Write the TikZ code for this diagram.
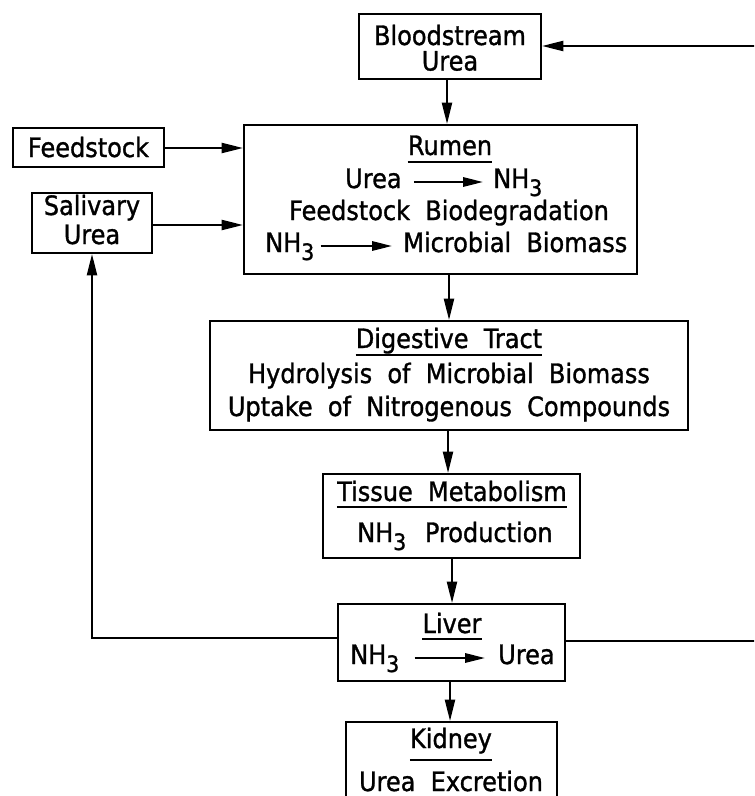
\documentclass[tikz,border=0pt]{standalone}
\usepackage{fontspec}
\setmainfont[WordSpace=2.0,FakeStretch=0.9,FakeBold=1.2]{DejaVu Sans}
\usetikzlibrary{arrows.meta,fit}
\newcommand\nhthree{NH\raisebox{-6pt}{\fontsize{17}{17}\selectfont 3}}
\begin{document}
\begin{tikzpicture}[x=0.75pt,y=-0.75pt,
  box/.style={draw,line width=1.5pt,inner sep=0pt},
  txt/.style={inner sep=0pt,anchor=base,font=\fontsize{20}{24}\selectfont},
  txtl/.style={txt,anchor=base west},
  flow/.style={line width=1.5pt,-{Triangle[length=16pt,width=7.5pt]}},
  inl/.style={line width=1.5pt,-{Triangle[length=15pt,width=7pt]}},
  ul/.style={line width=1.5pt}]
\clip (0,0) rectangle (754,796);
% boxes
\node[box,fit={(359,14) (541,79)}] (blood) {};
\node[box,fit={(13,128) (164,167)}] (feed) {};
\node[box,fit={(32,193) (152,253)}] (saliv) {};
\node[box,fit={(244,125) (637,274)}] (rumen) {};
\node[box,fit={(210,321) (688,430)}] (digest) {};
\node[box,fit={(323,474) (580,558)}] (tissue) {};
\node[box,fit={(338,604) (565,681)}] (liver) {};
\node[box,fit={(346,722) (557,840)}] (kidney) {};
% texts
\node[txt] (bl1) at (450,45) {Bloodstream};
\node[txt] (bl2) at (450,70.5) {Urea};
\node[txt] (fe1) at (88.5,157) {Feedstock};
\node[txt] (sa1) at (92,215) {Salivary};
\node[txt] (sa2) at (92,244) {Urea};
\node[txt] (ru0) at (450,155) {Rumen};
\node[txtl] (ru1a) at (345,188) {Urea};
\node[txtl] (ru1b) at (493,188) {\nhthree};
\node[txt] (ru2) at (449,220) {Feedstock Biodegradation};
\node[txtl] (ru3a) at (265,252) {\nhthree};
\node[txtl] (ru3b) at (403,252) {Microbial Biomass};
\node[txt] (di0) at (449,348) {Digestive Tract};
\node[txt] (di1) at (449,383) {Hydrolysis of Microbial Biomass};
\node[txt] (di2) at (449,416) {Uptake of Nitrogenous Compounds};
\node[txt] (ti0) at (452,501) {Tissue Metabolism};
\node[txtl] (ti1) at (357,542) {\nhthree\hspace{14pt}Production};
\node[txt] (li0) at (452,633) {Liver};
\node[txtl] (li1a) at (350,664) {\nhthree};
\node[txtl] (li1b) at (498,664) {Urea};
\node[txt] (ki0) at (451,748) {Kidney};
\node[txt] (ki1) at (451,791) {Urea Excretion};
% underlines
\draw[ul] ([shift={(0,7)}]ru0.base west) -- ([shift={(0,7)}]ru0.base east);
\draw[ul] ([shift={(0,7)}]di0.base west) -- ([shift={(0,7)}]di0.base east);
\draw[ul] ([shift={(0,6)}]ti0.base west) -- ([shift={(0,6)}]ti0.base east);
\draw[ul] ([shift={(0,6)}]li0.base west) -- ([shift={(0,6)}]li0.base east);
\draw[ul] ([shift={(0,12)}]ki0.base west) -- ([shift={(0,12)}]ki0.base east);
% inline arrows
\draw[inl] ([shift={(12,-6)}]ru1a.base east) -- ([shift={(-10,-6)}]ru1b.base west);
\draw[inl] ([shift={(6,-6)}]ru3a.base east) -- ([shift={(-11,-6)}]ru3b.base west);
\draw[inl] ([shift={(15,-6)}]li1a.base east) -- ([shift={(-13,-6)}]li1b.base west);
% connectors
\coordinate (rtop) at (770,46);
\coordinate (rbot) at (770,641);
\coordinate (lbot) at (92,638);
\draw[flow] (blood.south -| 447,0) -- (rumen.north -| 447,0);
\draw[flow] (feed.east |- 0,148) -- (rumen.west |- 0,148);
\draw[flow] (saliv.east |- 0,225) -- (rumen.west |- 0,225);
\draw[flow] (rumen.south -| 449,0) -- (digest.north -| 449,0);
\draw[flow] (digest.south -| 448,0) -- (tissue.north -| 448,0);
\draw[flow] (tissue.south -| 452,0) -- (liver.north -| 452,0);
\draw[flow] (liver.south -| 450,0) -- (kidney.north -| 450,0);
\draw[flow] (liver.east |- rbot) -- (rbot) -- (rtop) -- (blood.east |- rtop);
\draw[flow] (liver.west |- lbot) -- (lbot) -- (saliv.south -| lbot);
\end{tikzpicture}
\end{document}
